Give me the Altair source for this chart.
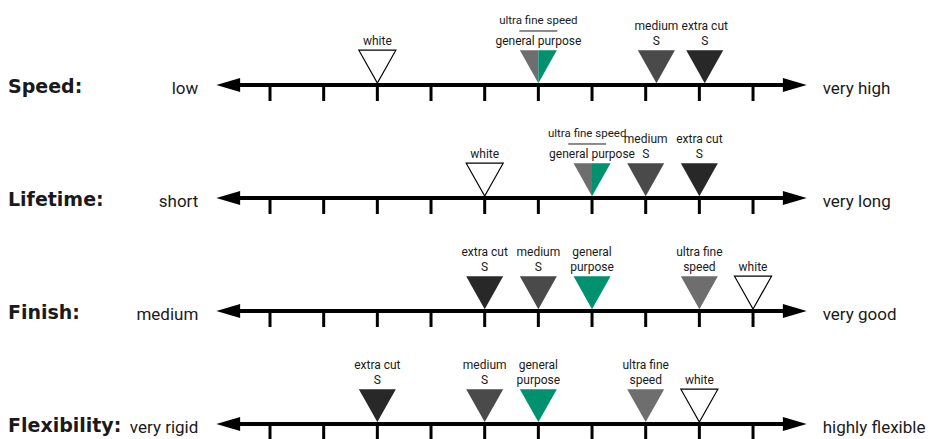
import altair as alt
import pandas as pd

# ---------------- data ----------------
criteria = ["Speed:", "Lifetime:", "Finish:", "Flexibility:"]
low_ends = ["low", "short", "medium", "very rigid"]
high_ends = ["very high", "very long", "very good", "highly flexible"]

products = ["white", "ultra fine speed", "general purpose", "medium S", "extra cut S"]
product_lines = [["white"], ["ultra fine", "speed"], ["general", "purpose"],
                 ["medium", "S"], ["extra cut", "S"]]
product_colors = ["#ffffff", "#6e6e6e", "#00916f", "#4a4a4a", "#282828"]

# position of each product on the scale (tick units 0..9), per criterion
speed_pos = [2, 5, 5, 7.2, 8.1]
lifetime_pos = [4, 6, 6, 7, 8]
finish_pos = [9, 8, 6, 5, 4]
flexibility_pos = [8, 7, 5, 4, 2]
positions = [speed_pos, lifetime_pos, finish_pos, flexibility_pos]

tick_values = list(range(10))
arrow_min, arrow_max = -1, 10

# ---------------- tables ----------------
rows_df = pd.DataFrame({
    "row": range(len(criteria)), "criterion": criteria,
    "low": low_ends, "high": high_ends,
    "x_lo": arrow_min, "x_hi": arrow_max,
    "x_lo_in": arrow_min + 0.4, "x_hi_in": arrow_max - 0.4,
})
ticks_df = pd.DataFrame([{"row": r, "x": t} for r in range(len(criteria)) for t in tick_values])

marks, labels, seps = [], [], []
for r, pos in enumerate(positions):
    shared = pos[1] == pos[2]
    for i, (p, x) in enumerate(zip(products, pos)):
        part = "full"
        if shared and i == 1:
            part = "lefthalf"
        elif shared and i == 2:
            part = "righthalf"
        marks.append({"row": r, "x": x, "product": p, "part": part})
        if shared and i in (1, 2):
            continue
        lines = product_lines[i]
        for k, txt in enumerate(reversed(lines)):
            labels.append({"row": r, "x": x, "text": txt, "level": k})
    if shared:
        # nudge the stacked label left when a neighbour sits one tick to the right
        crowded = any(0 < q - pos[1] <= 1.05 for q in pos[3:])
        lx = pos[1] - (0.09 if crowded else 0)
        labels.append({"row": r, "x": pos[2], "text": products[2], "level": 0})
        labels.append({"row": r, "x": lx, "text": products[1], "level": 2})
        seps.append({"row": r, "x": lx})
marks_df = pd.DataFrame(marks)
labels_df = pd.DataFrame(labels)
seps_df = pd.DataFrame(seps)

# ---------------- scales ----------------
W, H = 918, 431
xscale = alt.Scale(domain=[-4.882, 12.223], nice=False, zero=False)
yscale = alt.Scale(domain=[-0.6814, 3.133], reverse=True, nice=False, zero=False)
X = lambda f: alt.X(f, scale=xscale, axis=None)
Y = alt.Y("row:Q", scale=yscale, axis=None)

TXT = "#1a1a1a"
FONT = "Roboto, sans-serif"

tri = "M-1,-1.88L1,-1.88L0,-0.1Z"
tri_l = "M-1,-1.88L0,-1.88L0,-0.1Z"
tri_r = "M0,-1.88L1,-1.88L0,-0.1Z"
head_l = "M0,0L3.4,-1L3.4,1Z"
head_r = "M0,0L-3.4,-1L-3.4,1Z"

axis_line = alt.Chart(rows_df).mark_rule(color="black", strokeWidth=4).encode(
    x=X("x_lo_in:Q"), x2="x_hi_in:Q", y=Y)

ticks = alt.Chart(ticks_df).mark_rule(color="black", strokeWidth=3, y2Offset=16).encode(
    x=X("x:Q"), y=Y, y2="row:Q")

head_left = alt.Chart(rows_df).mark_point(filled=True, opacity=1, size=196, color="black",
                                          shape=head_l).encode(x=X("x_lo:Q"), y=Y)
head_right = alt.Chart(rows_df).mark_point(filled=True, opacity=1, size=196, color="black",
                                           shape=head_r).encode(x=X("x_hi:Q"), y=Y)

triangles = alt.Chart(marks_df).mark_point(filled=True, opacity=1, size=1369).encode(
    x=X("x:Q"), y=Y,
    shape=alt.Shape("part:N", scale=alt.Scale(domain=["full", "lefthalf", "righthalf"],
                                              range=[tri, tri_l, tri_r]), legend=None),
    fill=alt.Fill("product:N", scale=alt.Scale(domain=products, range=product_colors), legend=None),
    stroke=alt.value("black"),
    strokeWidth=alt.condition("datum.product === 'white'", alt.value(1.2), alt.value(0)),
)

level_style = {0: (-40, 12), 1: (-55, 12), 2: (-61, 11.5)}
label_layers = [
    alt.Chart(labels_df).transform_filter(f"datum.level === {lv}").mark_text(
        font=FONT, fontSize=fs, color=TXT, align="center", baseline="alphabetic", dy=dy
    ).encode(x=X("x:Q"), y=Y, text="text:N")
    for lv, (dy, fs) in level_style.items()
]

seps_layer = alt.Chart(seps_df).mark_rule(
    color=TXT, strokeWidth=1, xOffset=-19, x2Offset=19, yOffset=-54, y2Offset=-54
).encode(x=X("x:Q"), x2="x:Q", y=Y, y2="row:Q")

crit_text = alt.Chart(rows_df).mark_text(
    font="DejaVu Sans", fontWeight="bold", fontSize=19, color=TXT,
    align="left", baseline="alphabetic", dy=8
).encode(x=alt.value(0), y=Y, text="criterion:N")

low_text = alt.Chart(rows_df).mark_text(
    font=FONT, fontSize=17, color=TXT, align="right", baseline="alphabetic", dx=-18, dy=9
).encode(x=X("x_lo:Q"), y=Y, text="low:N")

high_text = alt.Chart(rows_df).mark_text(
    font=FONT, fontSize=17, color=TXT, align="left", baseline="alphabetic", dx=16, dy=9
).encode(x=X("x_hi:Q"), y=Y, text="high:N")

chart = alt.layer(
    axis_line, ticks, head_left, head_right, triangles, seps_layer, *label_layers,
    crit_text, low_text, high_text
).resolve_scale(shape="independent", fill="independent").properties(
    width=W, height=H, padding=0, autosize=alt.AutoSizeParams(type="none")
).configure_view(strokeWidth=0)

chart.save("out.html", embed_options={"renderer": "svg", "actions": False})
